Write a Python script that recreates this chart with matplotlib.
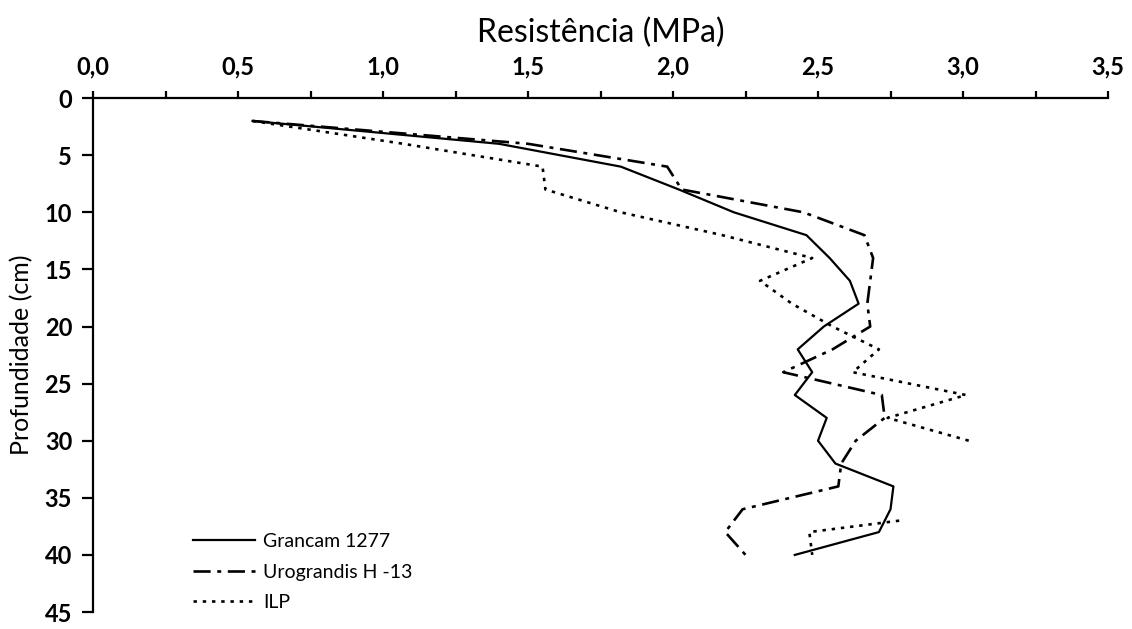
import numpy as np
import matplotlib
matplotlib.use("Agg")
import matplotlib.pyplot as plt
from matplotlib.ticker import MultipleLocator, FuncFormatter

# ---- data ----
depth = [2, 4, 6, 8, 10, 12, 14, 16, 18, 20, 22, 24, 26, 28, 30, 32, 34, 36, 38, 40]
grancam = [0.55, 1.40, 1.82, 2.02, 2.21, 2.46, 2.54, 2.61, 2.64, 2.52,
           2.43, 2.48, 2.42, 2.53, 2.50, 2.56, 2.76, 2.75, 2.71, 2.42]
urograndis = [0.55, 1.50, 1.98, 2.03, 2.45, 2.66, 2.69, 2.68, 2.67, 2.68,
              2.55, 2.38, 2.72, 2.73, 2.63, 2.58, 2.57, 2.24, 2.18, 2.25]
# ILP: part of the curve is hidden in the scan (gap between 30 and 37 cm)
ilp_depth = [2, 4, 6, 8, 10, 12, 14, 16, 18, 20, 22, 24, 26, 28, 30, 31, 37, 38, 40]
ilp = [0.55, 1.07, 1.55, 1.56, 1.82, 2.17, 2.48, 2.30, 2.41, 2.55,
       2.71, 2.62, 3.01, 2.74, 3.02, np.nan, 2.78, 2.47, 2.48]

labels = ["Grancam 1277", "Urograndis H -13", "ILP"]
xlabel = "Resistência (MPa)"
ylabel = "Profundidade (cm)"

plt.rcParams['font.family'] = ['Lato', 'DejaVu Sans']

fig = plt.figure(figsize=(11.32, 6.29), dpi=100)
ax = fig.add_axes([0.0822, 0.027, 0.8966, 0.817])

lw = 1.6
ax.plot(grancam, depth, color='black', lw=lw, linestyle='-', label=labels[0])
ax.plot(urograndis, depth, color='black', lw=lw + 0.3,
        linestyle=(0, (6.5, 2.5, 1.5, 2.5)), label=labels[1])
ax.plot(ilp, ilp_depth, color='black', lw=lw + 0.3,
        linestyle=(0, (1.3, 2.2)), label=labels[2])

ax.set_xlim(0, 3.5)
ax.set_ylim(45, 0)

ax.xaxis.tick_top()
ax.xaxis.set_label_position('top')
ax.xaxis.set_major_locator(MultipleLocator(0.5))
ax.xaxis.set_minor_locator(MultipleLocator(0.25))
ax.xaxis.set_major_formatter(FuncFormatter(lambda v, p: f"{v:.1f}".replace('.', ',')))
ax.yaxis.set_major_locator(MultipleLocator(5))

for s in ['right', 'bottom']:
    ax.spines[s].set_visible(False)
for s in ['left', 'top']:
    ax.spines[s].set_linewidth(1.6)

ax.tick_params(axis='both', which='both', direction='out', width=1.6,
               labelsize=17)
ax.tick_params(axis='x', which='both', length=5, pad=9)
ax.tick_params(axis='y', which='major', length=8, pad=7)
for t in ax.get_xticklabels() + ax.get_yticklabels():
    t.set_fontweight('bold')

ax.set_xlabel(xlabel, fontsize=23, labelpad=10)
ax.set_ylabel(ylabel, fontsize=18, labelpad=8)

leg = ax.legend(loc='lower left', bbox_to_anchor=(0.085, -0.025), frameon=False,
                fontsize=14, handlelength=3.2, handletextpad=0.4,
                labelspacing=0.7, borderpad=0.2)

fig.savefig("out.png", dpi=100, facecolor='white')
